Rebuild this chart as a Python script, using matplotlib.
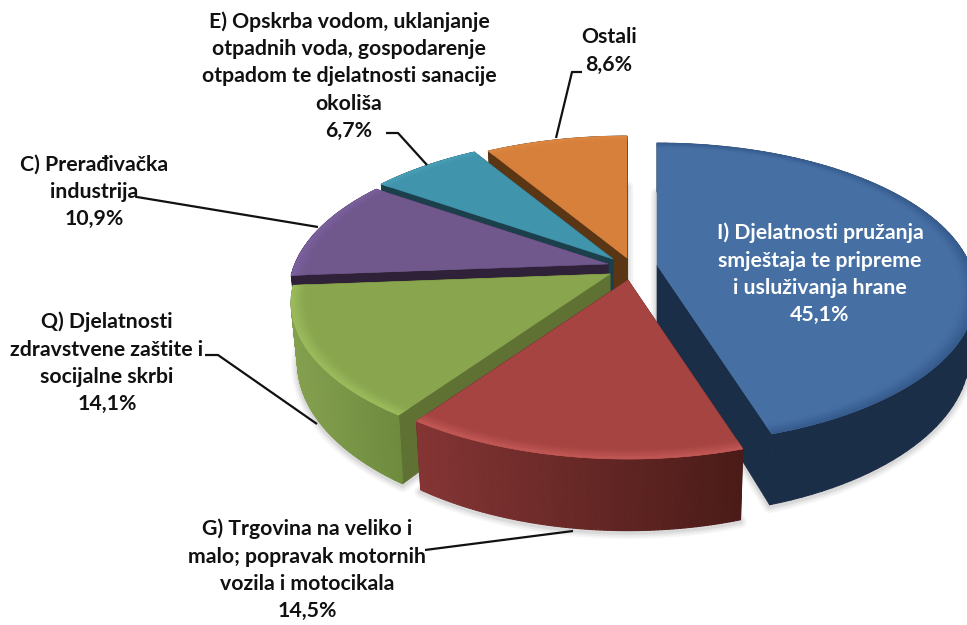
import numpy as np
import matplotlib
matplotlib.use("Agg")
import matplotlib.pyplot as plt
from matplotlib.collections import PolyCollection
from matplotlib.colors import to_rgb

# ---- data ----
names = ["I) Djelatnosti pružanja\nsmještaja te pripreme\ni usluživanja hrane",
         "G) Trgovina na veliko i\nmalo; popravak motornih\nvozila i motocikala",
         "Q) Djelatnosti\nzdravstvene zaštite i\nsocijalne skrbi",
         "C) Prerađivačka\nindustrija",
         "E) Opskrba vodom, uklanjanje\notpadnih voda, gospodarenje\notpadom te djelatnosti sanacije\nokoliša",
         "Ostali"]
values = [45.1, 14.5, 14.1, 10.9, 6.7, 8.6]
pct_labels = ["45,1%", "14,5%", "14,1%", "10,9%", "6,7%", "8,6%"]

# ---- styling ----
tips = [(657, 265), (628, 280), (610, 274), (608, 264), (613, 259), (627, 258)]
top_col = ["#466FA4", "#A64442", "#89A54E", "#70578C", "#4094AC", "#D7803B"]
rim_col = ["#345A8C", "#C45A57", "#9DBE5E", "#7C62A0", "#49A0B8", "#DC8844"]
side_l = ["#1B2E47", "#843534", "#84A04F", "#2F2138", "#1B3F4B", "#5A3615"]
side_r = ["#1B2E47", "#4A1B18", "#6D8A3D", "#2F2138", "#1B3F4B", "#5A3615"]
face_col = ["#1B2E47", "#4A1B18", "#5F7233", "#2F2138", "#1B3F4B", "#5A3615"]
text_pos = [(820, 274, "white"), (307, 570, "#111111"), (107, 363, "#111111"),
            (94, 192, "#111111"), (349, 76, "#111111"), (609, 51, "#111111")]
leaders = [None,
           [(573, 531), (425, 550)],
           [(317, 424), (218, 355), (205, 355)],
           [(318, 227), (137, 197)],
           [(427, 165), (398, 133), (386, 133)],
           [(556, 138), (572, 72), (582, 72)]]

R, RB, K, D, SHRINK = 313.0, 145.0, 0.19, 58.0, 0.98


def project(theta, r, tip, bottom=False):
    u, v = r * np.sin(theta), r * np.cos(theta)
    s = 1.0 / (1.0 + K * v)
    x, y = R * u * s, -RB * v * s
    if bottom:
        return tip[0] + x * SHRINK, tip[1] + y + D * s
    return tip[0] + x, tip[1] + y


def mix(a, b, t):
    a, b = np.array(to_rgb(a)), np.array(to_rgb(b))
    return tuple(a + (b - a) * t)


def outline(t0, t1, tip, bottom=False):
    th = np.linspace(t0, t1, 120)
    x, y = project(th, 1.0, tip, bottom)
    bx, by = project(np.array([0.0]), 0.0, tip, bottom)
    return np.column_stack([np.r_[bx, x], np.r_[by, y]])


fig = plt.figure(figsize=(9.67, 6.25), dpi=100, facecolor="white")
ax = fig.add_axes([0, 0, 1, 1])
ax.set_xlim(0, 967)
ax.set_ylim(625, 0)
ax.axis("off")

edges = np.r_[0, np.cumsum(values)] / np.sum(values) * 2 * np.pi
spans = list(zip(edges[:-1], edges[1:]))
order = [0, 5, 4, 3, 2, 1]

# soft shadow of the lower discs
for i in order:
    t0, t1 = spans[i]
    pts = outline(t0, t1, tips[i], True) + np.array([0, 2])
    for lw, a in [(9, 0.05), (6, 0.07), (3, 0.10)]:
        ax.fill(pts[:, 0], pts[:, 1], facecolor="none", edgecolor=(0.3, 0.3, 0.3, a),
                linewidth=lw, zorder=1, joinstyle="round")

z = 2
for i in order:
    t0, t1 = spans[i]
    tip = tips[i]
    # radial cut faces
    for t in (t0, t1):
        xa, ya = project(np.array([t, 0.0]), np.array([1.0, 0.0]), tip)
        xb, yb = project(np.array([0.0, t]), np.array([0.0, 1.0]), tip, True)
        ax.fill(np.r_[xa, xb], np.r_[ya, yb], color=face_col[i], lw=0.5, zorder=z)
    z += 1
    # outer wall
    th = np.linspace(t0, t1, 90)
    xt, yt = project(th, 1.0, tip)
    xb, yb = project(th, 1.0, tip, True)
    quads, cols = [], []
    lo, hi = min(xt.min(), xb.min()), max(xt.max(), xb.max())
    for j in range(len(th) - 1):
        quads.append([(xt[j], yt[j]), (xt[j + 1], yt[j + 1]), (xb[j + 1], yb[j + 1]), (xb[j], yb[j])])
        cols.append(mix(side_l[i], side_r[i], ((xt[j] + xt[j + 1]) / 2 - lo) / (hi - lo)))
    ax.add_collection(PolyCollection(quads, facecolors=cols, edgecolors=cols, linewidths=0.8, zorder=z))
    z += 1
    # top face
    pts = outline(t0, t1, tip)
    ax.fill(pts[:, 0], pts[:, 1], color=top_col[i], lw=0.4, zorder=z)
    z += 1
    # bevelled rim
    rs = np.linspace(1.0, 0.955, 7)
    quads, cols = [], []
    for k in range(len(rs) - 1):
        x0, y0 = project(th, rs[k], tip)
        x1, y1 = project(th, rs[k + 1], tip)
        c = mix(rim_col[i], top_col[i], (k + 0.5) / (len(rs) - 1))
        for j in range(len(th) - 1):
            quads.append([(x0[j], y0[j]), (x0[j + 1], y0[j + 1]), (x1[j + 1], y1[j + 1]), (x1[j], y1[j])])
            cols.append(c)
    ax.add_collection(PolyCollection(quads, facecolors=cols, edgecolors=cols, linewidths=0.4, zorder=z))
    z += 1

# leader lines
for pts in leaders:
    if pts:
        p = np.array(pts)
        ax.plot(p[:, 0], p[:, 1], color="#111111", lw=1.6, zorder=50, solid_capstyle="butt")

# labels
for name, pct, (x, y, col) in zip(names, pct_labels, text_pos):
    ax.text(x, y, name + "\n" + pct, ha="center", va="center", color=col,
            family="Lato", fontweight="bold", fontsize=15.3, linespacing=1.46, zorder=60)

fig.savefig("out.png", dpi=100, facecolor="white")
